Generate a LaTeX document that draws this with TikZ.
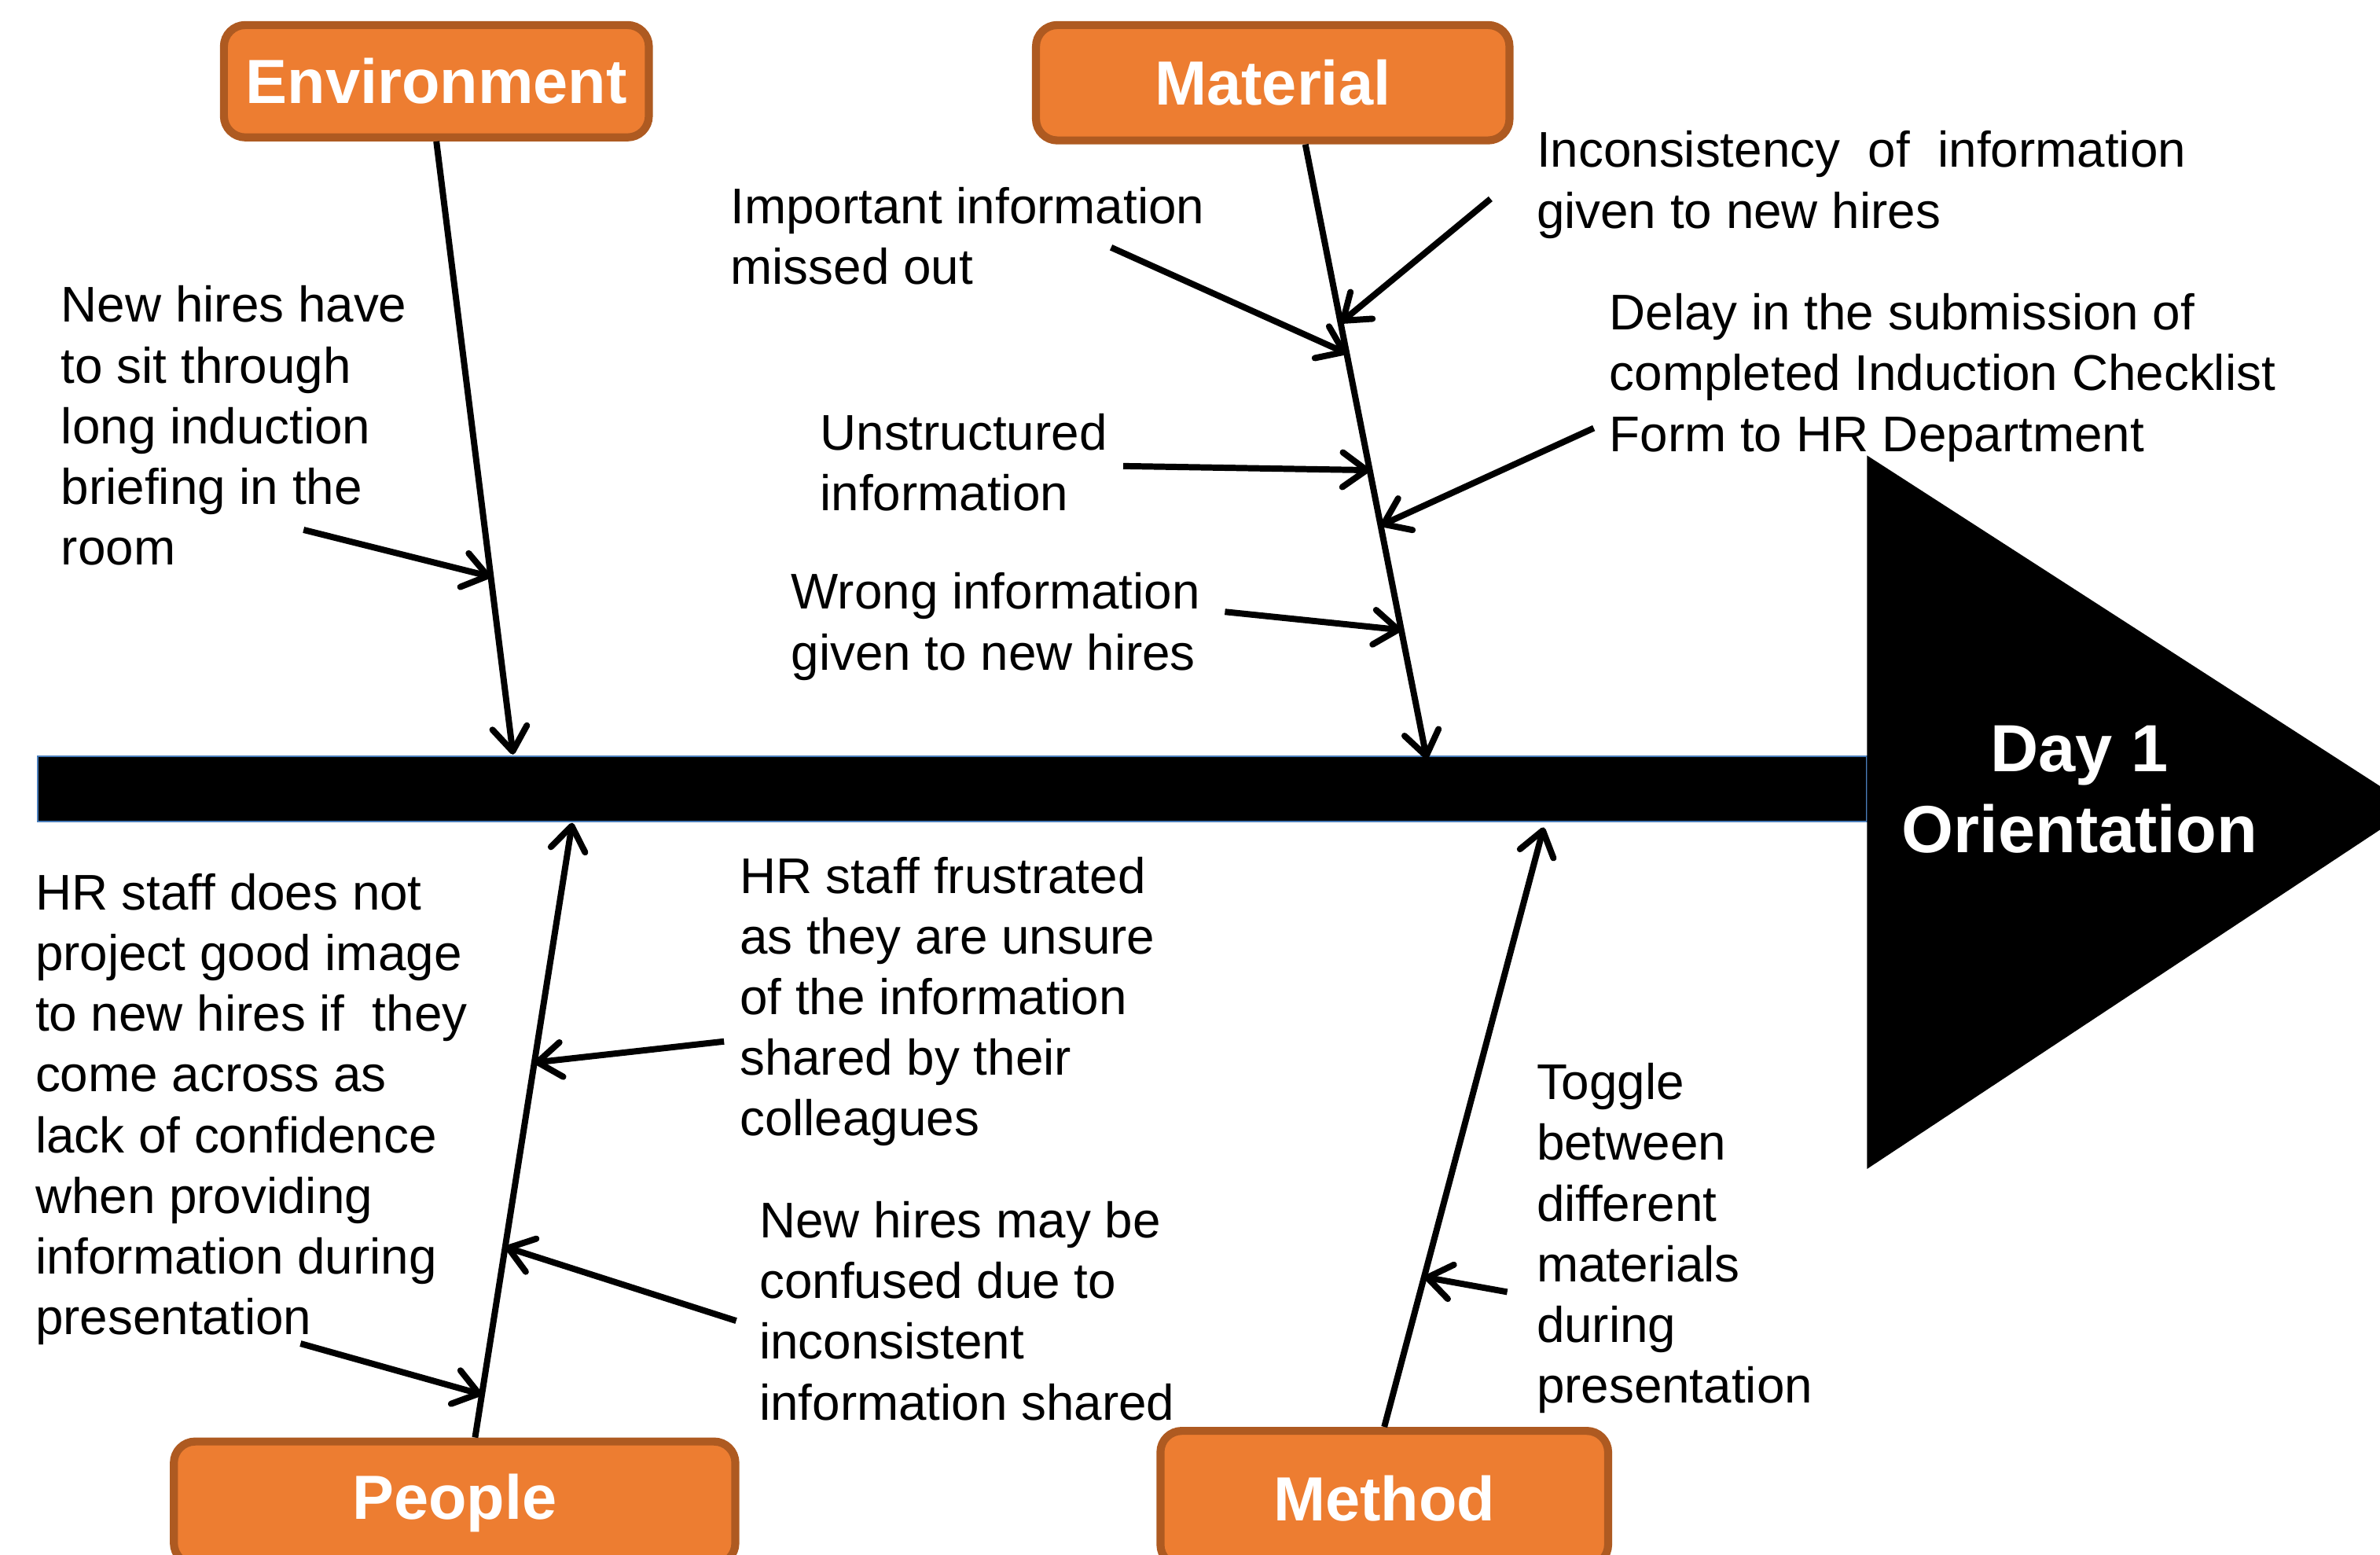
\documentclass[tikz,border=0pt]{standalone}
\usepackage{fontspec}
\setmainfont{Liberation Sans}
\usetikzlibrary{arrows.meta,calc}
\definecolor{boxfill}{HTML}{ED7D31}
\definecolor{boxline}{HTML}{AE5A21}
\definecolor{spineline}{HTML}{4A7EBB}
\begin{document}
\begin{tikzpicture}[x=0.02cm, y=-0.02cm,
		cat/.style={draw=boxline, fill=boxfill, line width=3pt, rounded corners=8pt,
			text=white, font=\bfseries\fontsize{23.4}{28}\selectfont},
		cause/.style={anchor=north west, inner sep=0pt, align=left,
			font=\fontsize{18.8}{22.76}\selectfont},
		bone/.style={black, line width=2.35pt, -{Straight Barb[length=9pt, width=13pt, round]}}]
		\useasboundingbox (0,0) rectangle (1568,1024);
		\draw[fill=black, draw=spineline, line width=0.6pt] (25,498) rectangle (1230,541);
		\fill[black] (1230,300) -- (1590,532) -- (1230,770) -- cycle;
		\node[text=white, align=center, font=\bfseries\fontsize{25}{30.2}\selectfont] (day) at (1370,520) {Day 1\\Orientation};
		\node[cat, minimum width=5.6cm, minimum height=1.48cm] (env) at (287.5,53.5) {Environment};
		\node[cat, minimum width=6.24cm, minimum height=1.52cm] (mat) at (838.5,54.5) {Material};
		\node[cat, minimum width=7.4cm, minimum height=1.62cm] (ppl) at (299.5,990) {People};
		\node[cat, minimum width=5.9cm, minimum height=1.78cm] (meth) at (912,987) {Method};
		\coordinate (envtip) at (338,497);
		\coordinate (matroot) at ([xshift=0.43cm]mat.south);
		\coordinate (mattip) at (940,500);
		\coordinate (pplroot) at ([xshift=0.27cm]ppl.north);
		\coordinate (ppltip) at (377,542);
		\coordinate (methtip) at (1017,545);
		\draw[bone] (env.south) -- (envtip);
		\draw[bone] (matroot) -- (mattip);
		\draw[bone] (pplroot) -- (ppltip);
		\draw[bone] (meth.north) -- (methtip);
		\node[cause] (envtxt) at (40,188) {New hires have\\to sit through\\long induction\\briefing in the\\room};
		\node[cause] (imp) at (481,123) {Important information\\missed out};
		\node[cause] (incons) at (1012,86) {Inconsistency\ \ of\ \ information\\given to new hires};
		\node[cause] (unstr) at (540,272) {Unstructured\\information};
		\node[cause] (delay) at (1060,193) {Delay in the submission of\\completed Induction Checklist\\Form to HR Department};
		\node[cause] (wrong) at (521,377) {Wrong information\\given to new hires};
		\node[cause] (hrimg) at (23,575) {HR staff does not\\project good image\\to new hires if\ \ they\\come across as\\lack of confidence\\when providing\\information during\\presentation};
		\node[cause] (frus) at (487,564) {HR staff frustrated\\as they are unsure\\of the information\\shared by their\\colleagues};
		\node[cause] (conf) at (500,791) {New hires may be\\confused due to\\inconsistent\\information shared};
		\node[cause] (togg) at (1012,700) {Toggle\\between\\different\\materials\\during\\presentation};
		\draw[bone] ([shift={(160,161)}]envtxt.north west) -- ($(env.south)!0.71!(envtip)$);
		\draw[bone] ([shift={(251,40)}]imp.north west) -- ($(matroot)!0.34!(mattip)$);
		\draw[bone] ([shift={(-30,45)}]incons.north west) -- ($(matroot)!0.29!(mattip)$);
		\draw[bone] ([shift={(200,35)}]unstr.north west) -- ($(matroot)!0.53!(mattip)$);
		\draw[bone] ([shift={(-10,89)}]delay.north west) -- ($(matroot)!0.62!(mattip)$);
		\draw[bone] ([shift={(286,26)}]wrong.north west) -- ($(matroot)!0.79!(mattip)$);
		\draw[bone] ([shift={(175,310)}]hrimg.north west) -- ($(pplroot)!0.07!(ppltip)$);
		\draw[bone] ([shift={(-10,122)}]frus.north west) -- ($(pplroot)!0.61!(ppltip)$);
		\draw[bone] ([shift={(-15,79)}]conf.north west) -- ($(pplroot)!0.31!(ppltip)$);
		\draw[bone] ([shift={(-19,151)}]togg.north west) -- ($(meth.north)!0.25!(methtip)$);
	\end{tikzpicture}
\end{document}
